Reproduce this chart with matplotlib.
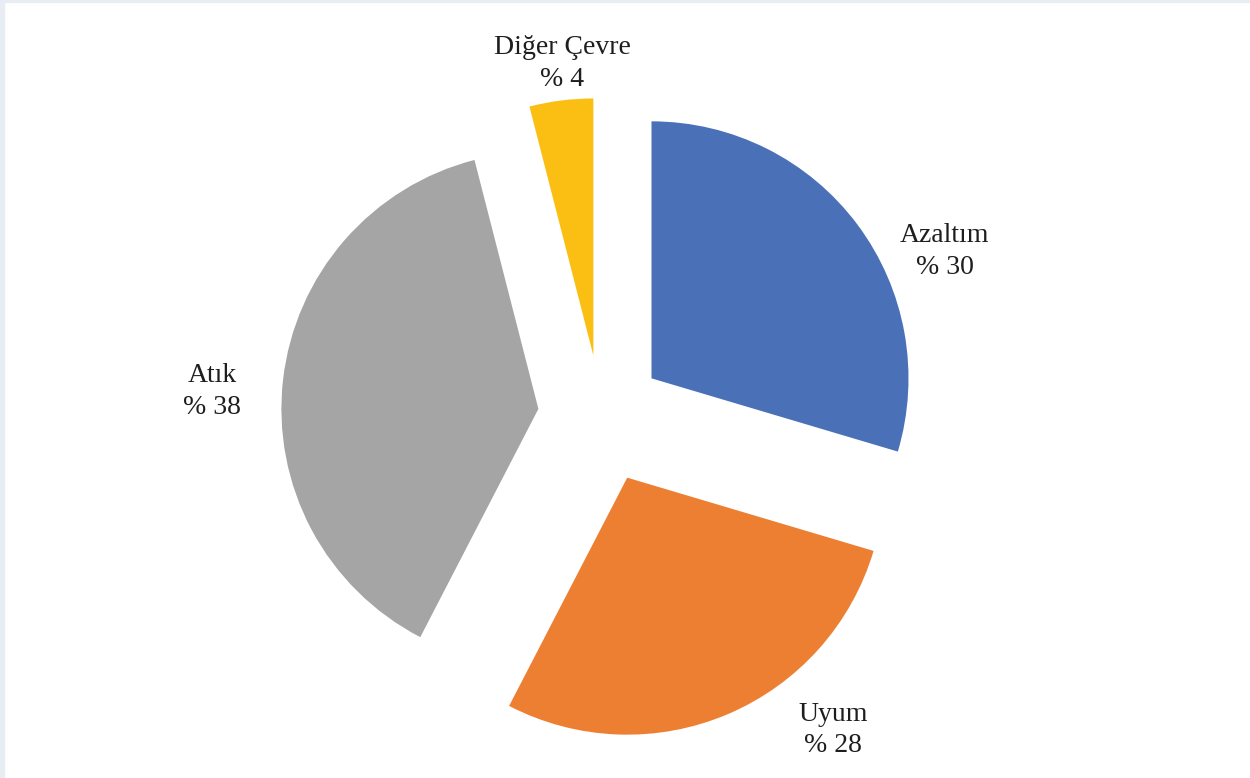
import matplotlib.pyplot as plt
from matplotlib.patches import Rectangle
import numpy as np

categories = ["Azaltım", "Uyum", "Atık", "Diğer Çevre"]
values = [29.6, 28.0, 38.4, 4.0]
colors = ["#4A71B8", "#ED7F32", "#A5A5A5", "#FBBF13"]

# explosion per slice (px) and label offsets from each wedge centre (deg, px)
explode = [63, 67, 63, 61]
label_pos = [(23.4, 319.7), (-50.8, 325.6), (176.9, 326.9), (96.1, 293.7)]

fig = plt.figure(figsize=(12.5, 7.78), dpi=100)
fig.patch.set_facecolor("white")
# thin light frame on top and left edges
fig.patches.append(Rectangle((0, 0.9975), 1, 0.0025, transform=fig.transFigure,
                             color="#E8ECF3", zorder=0))
fig.patches.append(Rectangle((0, 0), 0.0032, 1, transform=fig.transFigure,
                             color="#E8ECF3", zorder=0))

ax = fig.add_axes([0, 0, 1, 1])
ax.axis("off")

cx, cy, r = 601, 362, 257
wedges, _ = ax.pie(values, colors=colors, startangle=90, counterclock=False,
                   radius=r, center=(cx, cy), explode=explode,
                   wedgeprops=dict(linewidth=0))
ax.set_xlim(0, 1250)
ax.set_ylim(0, 778)
ax.set_aspect("equal")

for w, name, v, (ang, dist) in zip(wedges, categories, values, label_pos):
    wx, wy = w.center
    a = np.deg2rad(ang)
    ax.text(wx + dist * np.cos(a), wy + dist * np.sin(a), f"{name}\n% {v:.0f}",
            ha="center", va="center", fontsize=20, family="Liberation Serif",
            color="#1E1E1E", linespacing=1.35)

fig.savefig("out.png", dpi=100)
